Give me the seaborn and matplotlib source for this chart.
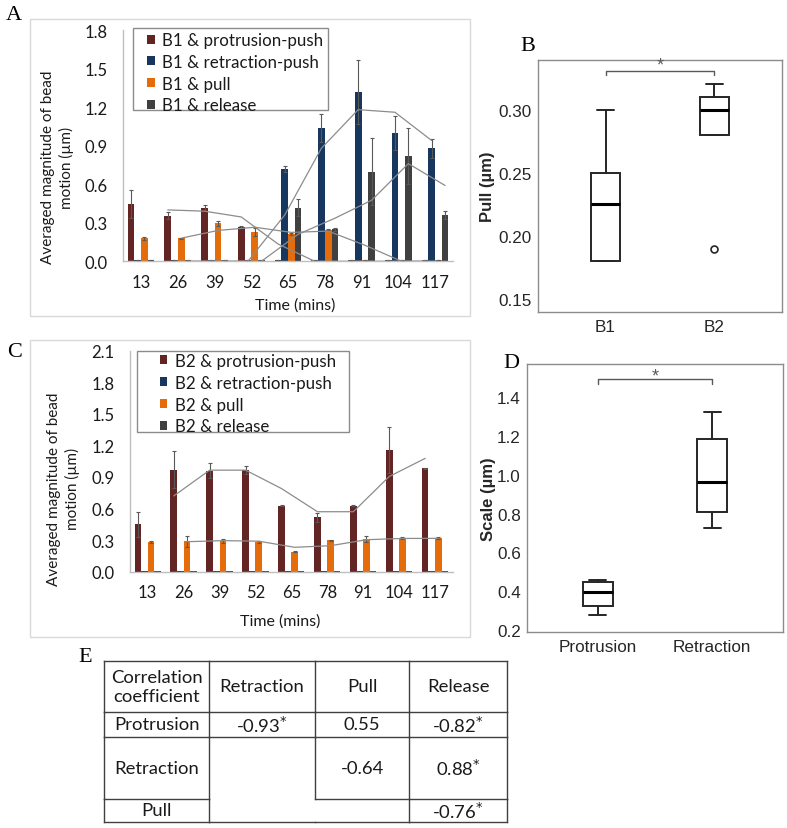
#!/usr/bin/env python3
"""Bead motion vs time (B1 / B2), pull and scale box plots, correlation table."""

import matplotlib
matplotlib.use("Agg")
import matplotlib.pyplot as plt
from matplotlib.patches import Rectangle
import numpy as np
import pandas as pd
import seaborn as sns

W, H = 787, 829

TIMES = ["13", "26", "39", "52", "65", "78", "91", "104", "117"]
SERIES = ["protrusion-push", "retraction-push", "pull", "release"]
COLORS = ["#632523", "#17375E", "#E46C0A", "#404040"]

# panel A (B1)
B1_PROTRUSION = [0.446, 0.355, 0.415, 0.267, 0.008, 0.008, 0.008, 0.008, 0.008]
B1_RETRACTION = [0.008, 0.008, 0.008, 0.008, 0.716, 1.037, 1.32, 0.998, 0.879]
B1_PULL = [0.179, 0.179, 0.296, 0.226, 0.213, 0.246, 0.008, 0.008, 0.008]
B1_RELEASE = [0.008, 0.008, 0.008, 0.008, 0.418, 0.249, 0.698, 0.82, 0.358]
B1_PROTRUSION_ERR = [0.11, 0.026, 0.026, 0.005, 0, 0, 0, 0, 0]
B1_RETRACTION_ERR = [0, 0, 0, 0, 0.023, 0.106, 0.25, 0.13, 0.073]
B1_PULL_ERR = [0.01, 0.005, 0.02, 0.03, 0.01, 0.005, 0, 0, 0]
B1_RELEASE_ERR = [0, 0, 0, 0, 0.067, 0.01, 0.26, 0.22, 0.03]
# moving-average trend lines, from the 2nd time point on
B1_PROTRUSION_TREND = [0.40, 0.39, 0.345, 0.135, 0.0, 0.0, 0.0, 0.0]
B1_RETRACTION_TREND = [0.0, 0.0, 0.0, 0.36, 0.88, 1.18, 1.16, 0.94]
B1_PULL_TREND = [0.18, 0.24, 0.265, 0.225, 0.235, 0.125, 0.0, 0.0]
B1_RELEASE_TREND = [0.0, 0.0, 0.0, 0.21, 0.335, 0.475, 0.76, 0.59]

# panel C (B2)
B2_PROTRUSION = [0.45, 0.969, 0.96, 0.969, 0.627, 0.516, 0.627, 1.159, 0.985]
B2_RETRACTION = [0.008] * 9
B2_PULL = [0.279, 0.288, 0.295, 0.279, 0.19, 0.30, 0.31, 0.32, 0.32]
B2_RELEASE = [0.008] * 9
B2_PROTRUSION_ERR = [0.12, 0.174, 0.07, 0.04, 0.005, 0.04, 0.005, 0.22, 0.005]
B2_PULL_ERR = [0.01, 0.05, 0.02, 0.01, 0.005, 0.005, 0.03, 0.005, 0.01]
B2_PROTRUSION_TREND = [0.72, 0.965, 0.965, 0.79, 0.57, 0.57, 0.905, 1.077]
B2_PULL_TREND = [0.285, 0.295, 0.29, 0.232, 0.247, 0.304, 0.316, 0.317]

A_YTICKS = [0.0, 0.3, 0.6, 0.9, 1.2, 1.5, 1.8]
C_YTICKS = [0.0, 0.3, 0.6, 0.9, 1.2, 1.5, 1.8, 2.1]

# panel B / D box statistics
B_GROUPS = ["B1", "B2"]
B_Q1 = [0.18, 0.28]
B_MED = [0.225, 0.30]
B_Q3 = [0.25, 0.31]
B_WHISLO = [0.18, 0.28]
B_WHISHI = [0.30, 0.32]
B_FLIERS = [[], [0.19]]
B_YTICKS = [0.15, 0.20, 0.25, 0.30]

D_GROUPS = ["Protrusion", "Retraction"]
D_Q1 = [0.324, 0.806]
D_MED = [0.398, 0.963]
D_Q3 = [0.445, 1.183]
D_WHISLO = [0.28, 0.725]
D_WHISHI = [0.458, 1.321]
D_FLIERS = [[], []]
D_YTICKS = [0.2, 0.4, 0.6, 0.8, 1.0, 1.2, 1.4]

# panel E
TABLE_ROWS = [
    ["Correlation\ncoefficient", "Retraction", "Pull", "Release"],
    ["Protrusion", "-0.93$^{*}$", "0.55", "-0.82$^{*}$"],
    ["Retraction", "", "-0.64", "0.88$^{*}$"],
    ["Pull", "", "", "-0.76$^{*}$"],
]
TABLE_COL_W = [105, 106, 94, 98]
TABLE_ROW_H = [51, 25, 62, 23]
# grid segments that are missing in the original: (boundary index, cell index)
SKIP_H = {(3, 1)}
SKIP_V = {(2, 3)}

EXCEL_FONT = "Lato"
SPSS_FONT = "Liberation Sans"
TXT = "#1a1a1a"


def fig_rect(left, top, right, bottom):
    return [left / W, 1 - bottom / H, (right - left) / W, (bottom - top) / H]


def excel_panel(ax, prefix, values, errs, trends, yticks, legend_xy, legend_box,
                ylabel_xy, xlabel_xy):
    labels = [f"{prefix} & {s}" for s in SERIES]
    df = pd.DataFrame([
        {"time": t, "series": lab, "value": v}
        for lab, vals in zip(labels, values) for t, v in zip(TIMES, vals)
    ])
    sns.barplot(data=df, x="time", y="value", hue="series", hue_order=labels,
                order=TIMES, palette=COLORS, saturation=1, width=0.73,
                errorbar=None, linewidth=0, ax=ax)

    for cont, vals, err, trend in zip(ax.containers, values, errs, trends):
        xs = [p.get_x() + p.get_width() / 2 for p in cont]
        if err is not None:
            ax.errorbar(xs, vals, yerr=err, fmt="none", ecolor="#595959",
                        elinewidth=0.8, capsize=1.5, capthick=0.8, zorder=3)
        if trend is not None:
            ax.plot(xs[1:], trend, color="#8c8c8c", lw=0.9, zorder=4)

    ax.set_xlim(-0.5, len(TIMES) - 0.5)
    ax.set_ylim(yticks[0], yticks[-1])
    ax.set_yticks(yticks)
    ax.set_yticklabels([f"{v:.1f}" for v in yticks])
    ax.set_xticks(np.arange(-0.5, len(TIMES)), minor=True)
    ax.tick_params(axis="x", which="major", length=0, pad=9, labelsize=12, labelcolor=TXT)
    ax.tick_params(axis="x", which="minor", length=4.5, color="#BFBFBF", direction="out")
    ax.tick_params(axis="y", length=4, color="#BFBFBF", direction="out", pad=7,
                   labelsize=12, labelcolor=TXT)
    for lbl in ax.get_xticklabels() + ax.get_yticklabels():
        lbl.set_fontfamily(EXCEL_FONT)
    for side in ("top", "right"):
        ax.spines[side].set_visible(False)
    for side in ("left", "bottom"):
        ax.spines[side].set_color("#BFBFBF")
        ax.spines[side].set_linewidth(1)

    ax.set_ylabel("Averaged magnitude of bead\nmotion (µm)", fontsize=11,
                  family=EXCEL_FONT, color=TXT, va="center", linespacing=1.3)
    ax.yaxis.set_label_coords(*ylabel_xy)
    ax.set_xlabel("Time (mins)", fontsize=11.5, family=EXCEL_FONT, color=TXT, va="center")
    ax.xaxis.set_label_coords(*xlabel_xy)

    old = ax.get_legend()
    handles = old.legend_handles
    old.remove()
    leg = ax.legend(handles, labels, loc="upper left", bbox_to_anchor=legend_xy,
                    frameon=False, borderaxespad=0, borderpad=0,
                    handlelength=0.44, handleheight=0.44, handletextpad=0.45,
                    labelspacing=0.34, prop={"family": EXCEL_FONT, "size": 12.2})
    leg.set_zorder(6)
    for t in leg.get_texts():
        t.set_color(TXT)
    x0, y0, x1, y1 = legend_box
    ax.add_patch(Rectangle((x0, y0), x1 - x0, y1 - y0, transform=ax.transAxes,
                           facecolor="white", edgecolor="#8c8c8c", linewidth=1,
                           clip_on=False, zorder=5))


def box_panel(ax, groups, q1, med, q3, lo, hi, fliers, yticks, ylim, fmt, ylabel,
              ylabel_x, bracket):
    stats = [
        {"med": m, "q1": a, "q3": b, "whislo": wl, "whishi": wh, "fliers": f}
        for m, a, b, wl, wh, f in zip(med, q1, q3, lo, hi, fliers)
    ]
    line = "#262626"
    ax.bxp(stats, positions=range(len(groups)), widths=0.26, capwidths=0.15,
           patch_artist=True,
           boxprops={"facecolor": "white", "edgecolor": line, "linewidth": 1.4},
           medianprops={"color": "black", "linewidth": 2.2},
           whiskerprops={"color": line, "linewidth": 1.4},
           capprops={"color": line, "linewidth": 1.4},
           flierprops={"marker": "o", "markerfacecolor": "none",
                       "markeredgecolor": line, "markersize": 5, "markeredgewidth": 1.2})
    ax.set_xlim(-0.62, len(groups) - 1 + 0.62)
    ax.set_ylim(*ylim)
    ax.set_xticks(range(len(groups)))
    ax.set_xticklabels(groups)
    ax.set_yticks(yticks)
    ax.set_yticklabels([fmt.format(v) for v in yticks])
    ax.tick_params(axis="both", length=3.5, color="#8c8c8c", direction="out",
                   labelsize=12.3, labelcolor="#262626")
    ax.tick_params(axis="y", pad=1)
    ax.tick_params(axis="x", pad=1.5)
    for lbl in ax.get_xticklabels() + ax.get_yticklabels():
        lbl.set_fontfamily(SPSS_FONT)
    for sp in ax.spines.values():
        sp.set_visible(True)
        sp.set_color("#8c8c8c")
        sp.set_linewidth(1)
    ax.set_ylabel(ylabel, fontsize=12, fontweight="bold", family=SPSS_FONT,
                  color="#262626", va="center")
    ax.yaxis.set_label_coords(ylabel_x, 0.5)

    y_line, y_tick, y_star = bracket
    ax.plot([0, 0, 1, 1], [y_tick, y_line, y_line, y_tick], color="#595959", lw=1)
    ax.text(0.5, y_star, "*", ha="center", va="center", fontsize=13,
            family=SPSS_FONT, color="#595959")


def table_panel(ax):
    ax.axis("off")
    tbl = ax.table(cellText=TABLE_ROWS, cellLoc="center", bbox=[0, 0, 1, 1],
                   colWidths=[w / sum(TABLE_COL_W) for w in TABLE_COL_W])
    tbl.auto_set_font_size(False)
    tbl.set_fontsize(13.3)
    for (r, c), cell in tbl.get_celld().items():
        cell.set_height(TABLE_ROW_H[r] / sum(TABLE_ROW_H))
        cell.set_edgecolor("none")
        cell.get_text().set_fontfamily(EXCEL_FONT)
        cell.get_text().set_color(TXT)

    # grid drawn separately so that the two missing segments can be left out
    cx = np.concatenate([[0], np.cumsum(TABLE_COL_W)]) / sum(TABLE_COL_W)
    ry = 1 - np.concatenate([[0], np.cumsum(TABLE_ROW_H)]) / sum(TABLE_ROW_H)
    style = {"color": "#404040", "lw": 1, "clip_on": False,
             "solid_capstyle": "projecting", "zorder": 3}
    for i, y in enumerate(ry):
        for c in range(len(TABLE_COL_W)):
            if (i, c) not in SKIP_H:
                ax.plot([cx[c], cx[c + 1]], [y, y], **style)
    for j, x in enumerate(cx):
        for r in range(len(TABLE_ROW_H)):
            if (j, r) not in SKIP_V:
                ax.plot([x, x], [ry[r], ry[r + 1]], **style)
    ax.set_xlim(0, 1)
    ax.set_ylim(0, 1)


def main():
    sns.set_style("white")
    plt.rcParams["font.family"] = [EXCEL_FONT, "DejaVu Sans"]

    fig = plt.figure(figsize=(W / 100, H / 100), dpi=100)

    # chart frames around A and C
    for left, top, right, bottom in [(29.5, 20, 469.5, 316.5), (29.5, 341, 469.5, 638)]:
        r = fig_rect(left, top, right, bottom)
        fig.patches.append(Rectangle((r[0], r[1]), r[2], r[3], fill=False,
                                     edgecolor="#D9D9D9", linewidth=1,
                                     transform=fig.transFigure, figure=fig))

    ax_a = fig.add_axes(fig_rect(122.7, 31, 453.4, 262.3))
    excel_panel(
        ax_a, "B1",
        [B1_PROTRUSION, B1_RETRACTION, B1_PULL, B1_RELEASE],
        [B1_PROTRUSION_ERR, B1_RETRACTION_ERR, B1_PULL_ERR, B1_RELEASE_ERR],
        [B1_PROTRUSION_TREND, B1_RETRACTION_TREND, B1_PULL_TREND, B1_RELEASE_TREND],
        A_YTICKS, (0.0744, 0.991), (0.031, 0.654, 0.621, 1.0087),
        (-0.197, 0.41), (0.521, -0.186),
    )

    ax_c = fig.add_axes(fig_rect(129.7, 351.7, 453, 572.7))
    excel_panel(
        ax_c, "B2",
        [B2_PROTRUSION, B2_RETRACTION, B2_PULL, B2_RELEASE],
        [B2_PROTRUSION_ERR, None, B2_PULL_ERR, None],
        [B2_PROTRUSION_TREND, None, B2_PULL_TREND, None],
        C_YTICKS, (0.0937, 0.9896), (0.0217, 0.633, 0.678, 1.0),
        (-0.205, 0.379), (0.465, -0.222),
    )

    ax_b = fig.add_axes(fig_rect(538, 61, 782, 313))
    box_panel(ax_b, B_GROUPS, B_Q1, B_MED, B_Q3, B_WHISLO, B_WHISHI, B_FLIERS,
              B_YTICKS, (0.1397, 0.3394), "{:.2f}", "Pull (µm)", -0.205,
              (0.3304, 0.3275, 0.3352))

    ax_d = fig.add_axes(fig_rect(527, 365, 783, 633))
    box_panel(ax_d, D_GROUPS, D_Q1, D_MED, D_Q3, D_WHISLO, D_WHISHI, D_FLIERS,
              D_YTICKS, (0.19, 1.57), "{:.1f}", "Scale (µm)", -0.151,
              (1.493, 1.467, 1.510))

    table_panel(fig.add_axes(fig_rect(104, 662, 507, 823)))

    for letter, x, y in [("A", 14, 15), ("B", 528, 46.5), ("C", 15, 353),
                         ("D", 511, 364), ("E", 85, 657.5)]:
        fig.text(x / W, 1 - y / H, letter, ha="center", va="center",
                 fontsize=16, family="Liberation Serif", color="black")

    fig.savefig("out.png", dpi=100)
    plt.close(fig)


if __name__ == "__main__":
    main()
